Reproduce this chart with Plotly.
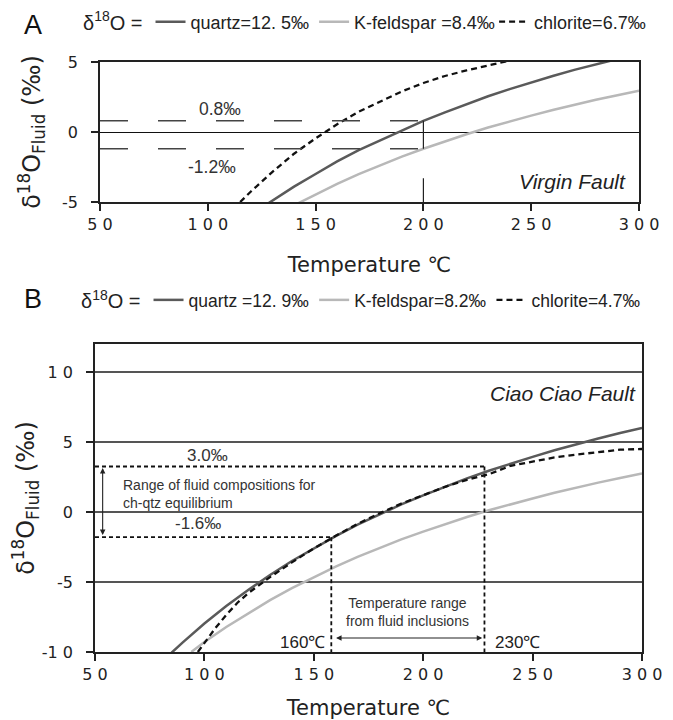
import plotly.graph_objects as go

# ---------------- data ----------------
# Panel A : Virgin Fault
qtzA_T = [125, 130, 140, 150, 160, 170, 180, 190, 200, 210, 220, 230, 240, 250, 260, 270, 280, 290, 300]
qtzA_d = [-5.4, -4.9, -3.9, -3.0, -2.1, -1.3, -0.6, 0.1, 0.8, 1.4, 2.0, 2.55, 3.06, 3.54, 4.0, 4.44, 4.85, 5.24, 5.6]
kfsA_T = [140, 150, 160, 170, 180, 190, 200, 210, 220, 230, 240, 250, 260, 270, 280, 290, 300]
kfsA_d = [-5.24, -4.44, -3.7, -3.01, -2.36, -1.76, -1.2, -0.66, -0.16, 0.32, 0.76, 1.17, 1.57, 1.95, 2.3, 2.63, 2.95]
chlA_T = [115, 120, 130, 140, 150, 160, 170, 180, 190, 200, 210, 220, 230, 240]
chlA_d = [-5.0, -4.25, -2.85, -1.55, -0.45, 0.55, 1.45, 2.2, 2.9, 3.5, 4.0, 4.4, 4.75, 5.1]
levelsA = [0.8, -1.2]          # fluid composition bounds, panel A
tempA = 200                    # temperature marker, panel A
tempA_low_seg = [-5, -3.3]     # short marker segment at the bottom

# Panel B : Ciao Ciao Fault
qtzB_T = [85, 90, 100, 110, 120, 130, 140, 150, 160, 170, 180, 190, 200, 210, 220, 230, 240, 250, 260, 270, 280, 290, 300]
qtzB_d = [-10.05, -9.33, -7.97, -6.72, -5.57, -4.5, -3.5, -2.58, -1.72, -0.91, -0.16, 0.54, 1.19, 1.82, 2.4, 2.95, 3.46, 3.94, 4.41, 4.84, 5.25, 5.64, 6.01]
kfsB_T = [94, 100, 110, 120, 130, 140, 150, 160, 170, 180, 190, 200, 210, 220, 230, 240, 250, 260, 270, 280, 290, 300]
kfsB_d = [-10.0, -9.29, -8.21, -7.22, -6.29, -5.44, -4.64, -3.9, -3.21, -2.56, -1.96, -1.4, -0.86, -0.36, 0.12, 0.56, 0.97, 1.37, 1.75, 2.1, 2.43, 2.75]
chlB_T = [97, 100, 105, 110, 115, 120, 127, 130, 140, 150, 160, 170, 180, 190, 200, 210, 220, 230, 240, 250, 260, 270, 280, 290, 300]
chlB_d = [-10.0, -9.35, -8.3, -7.35, -6.5, -5.8, -5.0, -4.65, -3.6, -2.6, -1.7, -0.85, -0.1, 0.6, 1.2, 1.8, 2.3, 2.7, 3.3, 3.6, 3.9, 4.1, 4.3, 4.45, 4.5]
levelsB = [3.25, -1.8]         # range of fluid compositions (ch-qtz)
tempsB = [158, 228]            # temperature range from fluid inclusions

x_ticks = [50, 100, 150, 200, 250, 300]
x_ticktext = ["5 0", "1 0 0", "1 5 0", "2 0 0", "2 5 0", "3 0 0"]
yA_ticks = [-5, 0, 5]
yA_ticktext = ["-5", "0", "5"]
yB_ticks = [-10, -5, 0, 5, 10]
yB_ticktext = ["-1 0", "-5", "0", "5", "1 0"]

names_A = ["quartz=12. 5‰", "K-feldspar =8.4‰", "chlorite=6.7‰"]
names_B = ["quartz =12. 9‰", "K-feldspar=8.2‰", "chlorite=4.7‰"]

# ---------------- styling ----------------
QTZ = "#5a5a5a"
KFS = "#b8b8b8"
CHL = "#111111"
OFF = 8                      # page body margin
W, H = 673 - OFF, 720 - OFF
TXT = "Liberation Sans"
NUM = "DejaVu Sans"


def px(x):   # page x (px) -> paper fraction
    return (x - OFF) / W


def py(y):   # page y (px, from top) -> paper fraction
    return 1 - (y - OFF) / H


fig = go.Figure()

# Panel A curves
fig.add_trace(go.Scatter(x=qtzA_T, y=qtzA_d, mode="lines", name=names_A[0],
                         line=dict(color=QTZ, width=2.5), xaxis="x", yaxis="y", legend="legend"))
fig.add_trace(go.Scatter(x=kfsA_T, y=kfsA_d, mode="lines", name=names_A[1], legendwidth=135,
                         line=dict(color=KFS, width=2.5), xaxis="x", yaxis="y", legend="legend"))
fig.add_trace(go.Scatter(x=chlA_T, y=chlA_d, mode="lines", name=names_A[2],
                         line=dict(color=CHL, width=2.3, dash="6px,4px"), xaxis="x", yaxis="y", legend="legend"))

# Panel A reference lines
for lv in levelsA:
    fig.add_trace(go.Scatter(x=[x_ticks[0], tempA], y=[lv, lv], mode="lines", showlegend=False,
                             line=dict(color="#444444", width=1.6, dash="28px,30px"),
                             xaxis="x", yaxis="y", hoverinfo="skip"))
fig.add_trace(go.Scatter(x=[tempA, tempA], y=levelsA, mode="lines", showlegend=False,
                         line=dict(color="#222222", width=1.2), xaxis="x", yaxis="y", hoverinfo="skip"))
fig.add_trace(go.Scatter(x=[tempA, tempA], y=tempA_low_seg, mode="lines", showlegend=False,
                         line=dict(color="#222222", width=1.2), xaxis="x", yaxis="y", hoverinfo="skip"))

# Panel B curves
fig.add_trace(go.Scatter(x=qtzB_T, y=qtzB_d, mode="lines", name=names_B[0],
                         line=dict(color=QTZ, width=2.5), xaxis="x2", yaxis="y2", legend="legend2"))
fig.add_trace(go.Scatter(x=kfsB_T, y=kfsB_d, mode="lines", name=names_B[1],
                         line=dict(color=KFS, width=2.5), xaxis="x2", yaxis="y2", legend="legend2"))
fig.add_trace(go.Scatter(x=chlB_T, y=chlB_d, mode="lines", name=names_B[2],
                         line=dict(color=CHL, width=2.3, dash="6px,4px"), xaxis="x2", yaxis="y2", legend="legend2"))

# Panel B reference dashed lines
for lv, t in zip(levelsB, [tempsB[1], tempsB[0]]):
    fig.add_trace(go.Scatter(x=[x_ticks[0], t], y=[lv, lv], mode="lines", showlegend=False,
                             line=dict(color="#111111", width=1.8, dash="4px,3px"),
                             xaxis="x2", yaxis="y2", hoverinfo="skip"))
for t, lv in zip(tempsB, [levelsB[1], levelsB[0]]):
    fig.add_trace(go.Scatter(x=[t, t], y=[lv, yB_ticks[0]], mode="lines", showlegend=False,
                             line=dict(color="#111111", width=1.8, dash="4px,3px"),
                             xaxis="x2", yaxis="y2", hoverinfo="skip"))

axis_common = dict(showline=True, mirror=True, linecolor="#222222", linewidth=1.5,
                   ticks="outside", ticklen=7, tickwidth=1.5, tickcolor="#222222",
                   zeroline=False, automargin=False,
                   tickfont=dict(family=NUM, size=16, color="#222222"))
ytitle = "δ<sup>18</sup>O<sub>Fluid</sub> (‰)"
xtitle = "Temperature ℃"

fig.update_layout(
    width=W, height=H,
    margin=dict(l=0, r=0, t=0, b=0, autoexpand=False),
    paper_bgcolor="white", plot_bgcolor="white",
    xaxis=dict(domain=[px(100), px(639)], anchor="y", range=[50, 300],
               tickvals=x_ticks, ticktext=x_ticktext, showgrid=False,
               title=dict(text=xtitle, font=dict(family=NUM, size=21, color="#222222"), standoff=24),
               **axis_common),
    yaxis=dict(domain=[py(202), py(62)], anchor="x", range=[-5, 5],
               tickvals=yA_ticks, ticktext=yA_ticktext, showgrid=True, gridcolor="#111111", gridwidth=1.2,
               ticklabelstandoff=10,
               title=dict(text=ytitle, font=dict(family=NUM, size=24, color="#222222"), standoff=15),
               **axis_common),
    xaxis2=dict(domain=[px(95), px(642)], anchor="y2", range=[50, 300],
                tickvals=x_ticks, ticktext=x_ticktext, showgrid=False,
                title=dict(text=xtitle, font=dict(family=NUM, size=21, color="#222222"), standoff=22),
                **axis_common),
    yaxis2=dict(domain=[py(652), py(344)], anchor="x2", range=[-10, 12],
                tickvals=yB_ticks, ticktext=yB_ticktext, showgrid=True, gridcolor="#555555", gridwidth=1.6,
                ticklabelstandoff=10,
                title=dict(text=ytitle, font=dict(family=NUM, size=24, color="#222222"), standoff=12),
                **axis_common),
    legend=dict(orientation="h", x=px(81), y=py(22), xanchor="left", yanchor="middle",
                title=dict(text="δ<sup>18</sup>O =", font=dict(family=TXT, size=20, color="#222222")),
                font=dict(family=TXT, size=18, color="#222222"), bgcolor="rgba(0,0,0,0)",
                itemwidth=30, tracegroupgap=0),
    legend2=dict(orientation="h", x=px(79), y=py(300), xanchor="left", yanchor="middle",
                 title=dict(text="δ<sup>18</sup>O =", font=dict(family=TXT, size=20, color="#222222")),
                 font=dict(family=TXT, size=17.5, color="#222222"), bgcolor="rgba(0,0,0,0)",
                 itemwidth=30, tracegroupgap=0),
    showlegend=True,
)

# Panel letters
fig.add_annotation(text="A", xref="paper", yref="paper", x=px(33), y=py(25), xanchor="center", yanchor="middle",
                   borderpad=0, showarrow=False, font=dict(family=TXT, size=27, color="#111111"))
fig.add_annotation(text="B", xref="paper", yref="paper", x=px(33), y=py(299), xanchor="center", yanchor="middle",
                   borderpad=0, showarrow=False, font=dict(family=TXT, size=27, color="#111111"))

# Panel A labels
fig.add_annotation(text="0.8‰", x=95, y=levelsA[0], xref="x", yref="y", yanchor="bottom", xanchor="left",
                   showarrow=False, font=dict(family=TXT, size=17.5, color="#333333"))
fig.add_annotation(text="-1.2‰", x=90, y=levelsA[1], xref="x", yref="y", yanchor="top", xanchor="left",
                   yshift=-6, showarrow=False, font=dict(family=TXT, size=17.5, color="#333333"))
fig.add_annotation(text="<i>Virgin Fault</i>", x=295, y=-3.5, xref="x", yref="y", xanchor="right",
                   yanchor="middle", showarrow=False, font=dict(family=TXT, size=21, color="#222222"))

# Panel B labels
fig.add_annotation(text="<i>Ciao Ciao Fault</i>", x=298, y=8.5, xref="x2", yref="y2", xanchor="right",
                   yanchor="middle", showarrow=False, font=dict(family=TXT, size=21, color="#222222"))
fig.add_annotation(text="3.0‰", x=101.5, y=levelsB[0], xref="x2", yref="y2", yanchor="bottom", xanchor="center",
                   showarrow=False, font=dict(family=TXT, size=17, color="#333333"))
fig.add_annotation(text="-1.6‰", x=97, y=levelsB[1], xref="x2", yref="y2", yanchor="bottom", xanchor="center",
                   yshift=2, showarrow=False, font=dict(family=TXT, size=17, color="#333333"))
fig.add_annotation(text="Range of fluid compositions for<br>ch-qtz equilibrium", x=62, y=1.3,
                   xref="x2", yref="y2", xanchor="left", yanchor="middle", align="left", showarrow=False,
                   font=dict(family=TXT, size=14, color="#333333"))
fig.add_annotation(text="Temperature range<br>from fluid inclusions", x=(tempsB[0] + tempsB[1]) / 2, y=-7.15,
                   xref="x2", yref="y2", xanchor="center", yanchor="middle", align="center", showarrow=False,
                   font=dict(family=TXT, size=14, color="#333333"))
fig.add_annotation(text="160℃", x=tempsB[0], y=-9.3, xref="x2", yref="y2", xanchor="right", xshift=-4,
                   yanchor="middle", showarrow=False, font=dict(family=TXT, size=17, color="#222222"))
fig.add_annotation(text="230℃", x=tempsB[1], y=-9.3, xref="x2", yref="y2", xanchor="left", xshift=9,
                   yanchor="middle", showarrow=False, font=dict(family=TXT, size=17, color="#222222"))

# Arrows (double headed)
fig.add_annotation(x=53.5, y=levelsB[0] - 0.1, ax=53.5, ay=levelsB[1] + 0.05, xref="x2", yref="y2",
                   axref="x2", ayref="y2", text="", showarrow=True, arrowhead=2, arrowsize=1,
                   arrowwidth=1.1, arrowside="end+start", arrowcolor="#222222")
fig.add_annotation(x=tempsB[1] - 1, y=-9.0, ax=tempsB[0] + 1.5, ay=-9.0, xref="x2", yref="y2",
                   axref="x2", ayref="y2", text="", showarrow=True, arrowhead=2, arrowsize=1,
                   arrowwidth=1.1, arrowside="end+start", arrowcolor="#222222")

fig.write_html("out.html")
